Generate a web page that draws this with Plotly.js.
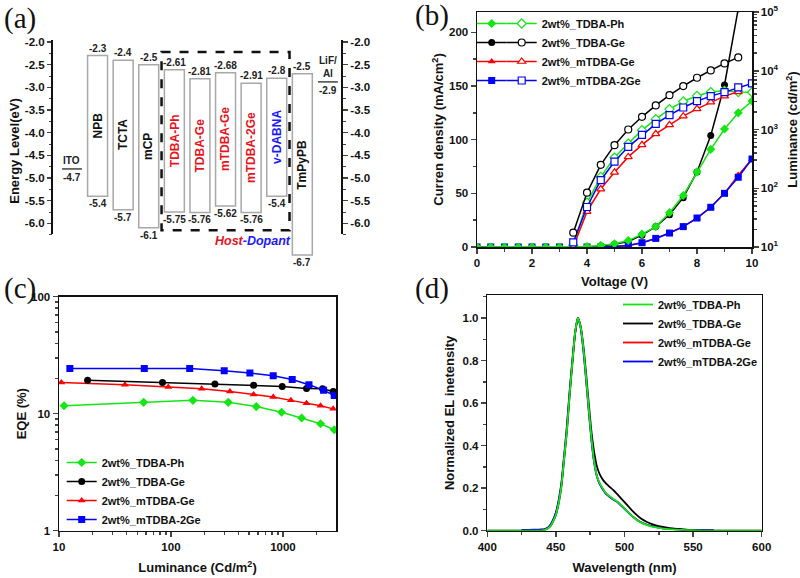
<!DOCTYPE html>
<html><head><meta charset="utf-8">
<script src="https://cdn.plot.ly/plotly-3.0.1.min.js"></script>
<style>html,body{margin:0;padding:0;background:#fff;} #chart{width:800px;height:578px;}</style>
</head><body><div id="chart"></div>
<script>
// ---------- (a) energy levels ----------
const materials = ['NPB','TCTA','mCP','TDBA-Ph','TDBA-Ge','mTDBA-Ge','mTDBA-2Ge','v-DABNA','TmPyPB'];
const materialRole = ['transport','transport','transport','host','host','host','host','dopant','transport'];
const lumo = [-2.3,-2.4,-2.5,-2.61,-2.81,-2.68,-2.91,-2.8,-2.7];
const homo = [-5.4,-5.7,-6.1,-5.75,-5.76,-5.62,-5.76,-5.4,-6.7];
const lumoText = ['-2.3','-2.4','-2.5','-2.61','-2.81','-2.68','-2.91','-2.8','-2.5'];
const homoText = ['-5.4','-5.7','-6.1','-5.75','-5.76','-5.62','-5.76','-5.4','-6.7'];
const electrodes = ['ITO','LiF/<br>Al'];
const electrodeLevel = [-4.8,-2.88];
const electrodeText = ['-4.7','-2.9'];
const energyTicks = [-2.0,-2.5,-3.0,-3.5,-4.0,-4.5,-5.0,-5.5,-6.0];

// ---------- (b) J-V-L ----------
const seriesNames = ['2wt%_TDBA-Ph','2wt%_TDBA-Ge','2wt%_mTDBA-Ge','2wt%_mTDBA-2Ge'];
const voltage = [0,0.5,1,1.5,2,2.5,3,3.5,4,4.5,5,5.5,6,6.5,7,7.5,8,8.5,9,9.5,10];
const jPh   = [0,0,0,0,0,0,0,0,0.5,1.5,3,6,12,19,32,48,70,91,110,125,136];
const jGe   = [0,0,0,0,0,0,0,0,0,1,2.5,5,11,19,30,46,70,104,151,222,null];
const jmGe  = [0,0,0,0,0,0,0,0,0,0,0.5,1.5,4,8,13,19,27,37,50,67,82];
const jm2Ge = [0,0,0,0,0,0,0,0,0,0,0.5,1.5,4,8,13,19,27,37,50,65,82];
const lumVoltage = [3.5,4,4.5,5,5.5,6,6.5,7,7.5,8,8.5,9,9.5,10];
const lPh   = [10.7,57,156,333,577,975,1500,2223,3000,3750,4330,4560,4330,4300];
const lGe   = [17.5,84,250,541,1000,1644,2566,3846,5480,7600,10140,13340,16870,null];
const lmGe  = [10,40,97,187,342,548,844,1202,1688,2250,2924,3700,4385,null];
const lm2Ge = [12,48,137,285,507,811,1250,1755,2370,3040,3700,4330,5200,6080];

// ---------- (c) EQE-L ----------
const eqeLumPh   = [11.1,57,157,325,578,973,1469,2168,2870];
const eqePh      = [11.7,12.5,13.0,12.5,11.5,10.3,9.2,8.2,7.3];
const eqeLumGe   = [18.0,84,247,547,986,1625,2259,2811];
const eqeGe      = [19.3,18.5,17.9,17.5,17.1,16.4,16.3,15.5];
const eqeLummGe  = [10.5,38.8,94.6,188,336,547,819,1178,1625,2168,2811];
const eqemGe     = [18.5,17.7,16.9,16.3,15.5,14.6,13.9,13.0,12.3,11.7,11.0];
const eqeLumm2Ge = [12.5,57.8,147,299,507,819,1210,1708,2306,2870];
const eqem2Ge    = [24.4,24.4,24.4,23.3,22.3,21.1,19.6,17.7,15.9,14.3];

// ---------- (d) EL spectra ----------
const wavelength = [400,425,430,435,440,442,444,446,448,450,452,454,456,458,460,462,464,466,468,470,472,474,476,478,480,482,484,486,488,490,492,494,496,498,500,503,506,509,512,516,520,525,530,535,540,545,550,555,560,565,600];
const elPh = [0,0,0,0,0.001,0.004,0.01,0.022,0.045,0.075,0.13,0.21,0.34,0.47,0.64,0.79,0.93,1.0,0.96,0.86,0.72,0.57,0.43,0.32,0.255,0.222,0.2,0.18,0.168,0.158,0.148,0.14,0.13,0.118,0.105,0.085,0.066,0.05,0.038,0.027,0.019,0.013,0.009,0.006,0.004,0.003,0.002,0.001,0,0,0];
const elGe = [0,0,0,0,0.001,0.004,0.01,0.021,0.044,0.074,0.128,0.208,0.335,0.465,0.635,0.785,0.925,1.0,0.962,0.87,0.74,0.595,0.46,0.365,0.3,0.265,0.242,0.226,0.213,0.201,0.19,0.177,0.163,0.148,0.134,0.113,0.092,0.073,0.057,0.042,0.031,0.022,0.016,0.011,0.008,0.005,0.003,0.001,0,0,0];
const elmGe = [null,0.003,0.004,0.004,0.005,0.008,0.013,0.027,0.05,0.084,0.14,0.22,0.35,0.488,0.652,0.798,0.93,1.0,0.956,0.852,0.712,0.562,0.422,0.318,0.254,0.22,0.198,0.179,0.166,0.156,0.147,0.139,0.129,0.117,0.104,0.085,0.067,0.052,0.04,0.029,0.021,0.015,0.01,0.007,0.005,0.004,0.003,0.003,0.002,0.002,null];
const elm2Ge = [null,0.004,0.004,0.005,0.006,0.008,0.014,0.028,0.052,0.086,0.142,0.222,0.352,0.49,0.655,0.8,0.932,1.0,0.955,0.85,0.71,0.56,0.42,0.315,0.252,0.218,0.196,0.177,0.165,0.155,0.146,0.138,0.128,0.116,0.103,0.084,0.066,0.051,0.04,0.029,0.021,0.015,0.01,0.007,0.005,0.004,0.004,0.003,0.003,0.002,null];

// ---------- styles ----------
const colors = ['#14e614','#000000','#ff0000','#0000ff'];
const symbols = ['diamond','circle','triangle-up','square'];
const roleColor = {transport:'#111111', host:'#e8141c', dopant:'#1a1aff'};
const FAM = 'Liberation Sans, Arial, sans-serif';
const tickF = {family:FAM, size:11.5, color:'#111', weight:'bold'};
const titleF = {family:FAM, size:13, color:'#111', weight:'bold'};
const legF = {family:FAM, size:11, color:'#111', weight:'bold'};
const px = v => v/800, py = v => 1 - v/578;

const traces = [];
// (a)
traces.push({type:'bar', x: materials.map((m,i)=>i+1), base: lumo, y: homo.map((h,i)=>h-lumo[i]),
  width:0.78, marker:{color:'#ffffff', line:{color:'#a8a8a8', width:1.5}},
  xaxis:'x', yaxis:'y', showlegend:false, hoverinfo:'skip'});
electrodes.forEach((e,k)=>{
  const pos = k===0 ? 0 : materials.length+1;
  traces.push({type:'scatter', mode:'lines', x:[pos-0.39,pos+0.39], y:[electrodeLevel[k],electrodeLevel[k]],
    line:{color:'#444',width:1.5}, xaxis:'x', yaxis: k===0 ? 'y' : 'y2', showlegend:false, hoverinfo:'skip'});
});
// (b)
const jData = [jPh,jGe,jmGe,jm2Ge];
const lData = [lPh,lGe,lmGe,lm2Ge];
[1,2,3,0].forEach(i=>{
  traces.push({type:'scatter', mode:'lines+markers', x:voltage, y:jData[i], name:' ',
    line:{color:colors[i], width:1.5}, marker:{symbol:symbols[i], size:7, color:colors[i]},
    xaxis:'x2', yaxis:'y3', legend:'legend', legendrank:i+1, hoverinfo:'skip'});
});
[0,2,3,1].forEach(i=>{
  traces.push({type:'scatter', mode:'lines+markers', x:lumVoltage, y:lData[i], name:seriesNames[i],
    line:{color:colors[i], width:1.5}, marker:{symbol:symbols[i], size:7, color:'#ffffff', line:{color:colors[i], width:1.2}},
    xaxis:'x2', yaxis:'y4', legend:'legend2', legendrank:i+1, hoverinfo:'skip'});
});
// (c)
const eqeX = [eqeLumPh,eqeLumGe,eqeLummGe,eqeLumm2Ge];
const eqeY = [eqePh,eqeGe,eqemGe,eqem2Ge];
[0,2,1,3].forEach(i=>{
  traces.push({type:'scatter', mode:'lines+markers', x:eqeX[i], y:eqeY[i], name:seriesNames[i],
    line:{color:colors[i], width:1.5}, marker:{symbol:symbols[i], size:7, color:colors[i]},
    xaxis:'x3', yaxis:'y5', legend:'legend3', legendrank:i+1, hoverinfo:'skip'});
});
// (d)
const elData = [elPh,elGe,elmGe,elm2Ge];
[2,3,1,0].forEach(i=>{
  traces.push({type:'scatter', mode:'lines', x:wavelength, y:elData[i], name:seriesNames[i],
    line:{color:colors[i], width:1.8, shape:'spline', smoothing:0.6},
    xaxis:'x4', yaxis:'y6', legend:'legend4', legendrank:i+1, hoverinfo:'skip'});
});

// annotations
const ann = [];
materials.forEach((m,i)=>{
  ann.push({xref:'x', yref:'y', x:i+1, y:(lumo[i]+homo[i])/2, text:m, textangle:-90, showarrow:false,
    font:{family:FAM, size:12, weight:'bold', color:roleColor[materialRole[i]]}});
  ann.push({xref:'x', yref:'y', x:i+1, y:lumo[i], yanchor:'bottom', yshift:0, text:lumoText[i], showarrow:false,
    font:{family:FAM, size:10, weight:'bold', color:'#222'}});
  ann.push({xref:'x', yref:'y', x:i+1, y:homo[i], yanchor:'top', yshift:0, text:homoText[i], showarrow:false,
    font:{family:FAM, size:10, weight:'bold', color:'#222'}});
});
electrodes.forEach((e,k)=>{
  const pos = k===0 ? 0 : materials.length+1;
  ann.push({xref:'x', yref:'y', x:pos, y:electrodeLevel[k], yanchor:'bottom', yshift:1, text:e, showarrow:false,
    font:{family:FAM, size:10, weight:'bold', color:'#222'}});
  ann.push({xref:'x', yref:'y', x:pos, y:electrodeLevel[k], yanchor:'top', yshift:-1, text:electrodeText[k], showarrow:false,
    font:{family:FAM, size:10, weight:'bold', color:'#222'}});
});
ann.push({xref:'x', yref:'y', x:7.07, y:-6.39, showarrow:false,
  text:'<i><span style="color:#e8141c">Host</span><span style="color:#1a1aff">-Dopant</span></i>',
  font:{family:FAM, size:12.5, weight:'bold'}});
const letter = (t,x,y)=>({xref:'paper', yref:'paper', x:px(x), y:py(y), xanchor:'center', yanchor:'middle', text:t, showarrow:false,
  font:{family:'Liberation Serif, Times New Roman, serif', size:29, color:'#111', weight:'normal'}});
ann.push(letter('(a)',20,18), letter('(b)',432,16), letter('(c)',20,288), letter('(d)',432,288));

const minorEnergy = [];
for (let v=-2.25; v>=-6.26; v-=0.5) minorEnergy.push(+v.toFixed(2));

const energyAxis = {
  range:[-6.853,-1.956], domain:[py(262), py(40)], showline:false, zeroline:false, showgrid:false,
  tickvals:energyTicks, ticktext:energyTicks.map(v=>v.toFixed(1)), ticks:'outside', ticklen:5, tickwidth:1.5,
  tickfont:tickF, minor:{tickvals:minorEnergy, ticks:'outside', ticklen:3, tickwidth:1}
};

const layout = {
  width:800, height:578, margin:{l:0,r:0,t:0,b:0}, paper_bgcolor:'#fff', plot_bgcolor:'rgba(0,0,0,0)',
  font:{family:FAM, size:11, color:'#111', weight:'bold'}, hovermode:false, showlegend:true, bargap:0,
  xaxis:{domain:[px(52),px(342)], range:[-0.78,10.55], visible:false, anchor:'y'},
  yaxis:Object.assign({}, energyAxis, {anchor:'free', position:px(52), side:'left',
    title:{text:'Energy Level(eV)', font:titleF, standoff:1}}),
  yaxis2:Object.assign({}, energyAxis, {anchor:'free', position:px(342), side:'right', overlaying:'y'}),
  xaxis2:{domain:[px(477),px(752)], range:[0,10], anchor:'y3', showline:true, mirror:true, linewidth:1.5, linecolor:'#111',
    showgrid:false, zeroline:false, ticks:'outside', ticklen:5, tickwidth:1.5, dtick:2, tickfont:tickF,
    minor:{dtick:1, ticks:'outside', ticklen:3}, title:{text:'Voltage (V)', font:titleF, standoff:8}},
  yaxis3:{domain:[py(247),py(12)], range:[0,219], anchor:'x2', showline:true, linewidth:1.5, linecolor:'#111',
    showgrid:false, zeroline:false, ticks:'outside', ticklen:5, tickwidth:1.5, dtick:50, tickfont:tickF,
    minor:{dtick:25, ticks:'outside', ticklen:3}, title:{text:'Curren density (mA/cm<sup>2</sup>)', font:titleF, standoff:2}},
  yaxis4:{type:'log', range:[1,5], anchor:'x2', overlaying:'y3', side:'right', showline:true, linewidth:1.5, linecolor:'#111',
    showgrid:false, zeroline:false, ticks:'outside', ticklen:5, tickwidth:1.5, tickfont:tickF,
    tickvals:[10,100,1000,10000,100000], ticktext:['10<sup>1</sup>','10<sup>2</sup>','10<sup>3</sup>','10<sup>4</sup>','10<sup>5</sup>'],
    minor:{dtick:'D1', ticks:'outside', ticklen:3}, title:{text:'Luminance (cd/m<sup>2</sup>)', font:titleF, standoff:14}},
  xaxis3:{type:'log', domain:[px(59),px(336)], range:[1,3.474], anchor:'y5', showline:true, mirror:true, linewidth:1.5, linecolor:'#111',
    showgrid:false, zeroline:false, ticks:'outside', ticklen:5, tickwidth:1.5, tickfont:tickF,
    tickvals:[10,100,1000], ticktext:['10','100','1000'], minor:{dtick:'D1', ticks:'outside', ticklen:3},
    title:{text:'Luminance (Cd/m<sup>2</sup>)', font:titleF, standoff:11}},
  yaxis5:{type:'log', domain:[py(530.7),py(296.7)], range:[0,2], anchor:'x3', showline:true, mirror:true, linewidth:1.5, linecolor:'#111',
    showgrid:false, zeroline:false, ticks:'outside', ticklen:5, tickwidth:1.5, tickfont:tickF,
    tickvals:[1,10,100], ticktext:['1','10','100'], minor:{dtick:'D1', ticks:'outside', ticklen:3},
    title:{text:'EQE (%)', font:titleF, standoff:1}},
  xaxis4:{domain:[px(487.3),px(761.7)], range:[400,600], anchor:'y6', showline:true, mirror:true, linewidth:1.5, linecolor:'#111',
    showgrid:false, zeroline:false, ticks:'outside', ticklen:5, tickwidth:1.5, dtick:50, tickfont:tickF,
    minor:{dtick:25, ticks:'outside', ticklen:3}, title:{text:'Wavelength (nm)', font:titleF, standoff:11}},
  yaxis6:{domain:[py(530.7),py(295)], range:[0,1.108], anchor:'x4', showline:true, mirror:true, linewidth:1.5, linecolor:'#111',
    showgrid:false, zeroline:false, ticks:'outside', ticklen:5, tickwidth:1.5, dtick:0.2, tickformat:'.1f', tickfont:tickF,
    minor:{dtick:0.1, ticks:'outside', ticklen:3}, title:{text:'Normalized EL inetensity', font:titleF, standoff:5}},
  legend:{x:px(471.7), y:py(9), xanchor:'left', yanchor:'top', bgcolor:'rgba(0,0,0,0)', font:legF, tracegroupgap:0, traceorder:'normal'},
  legend2:{x:px(501.7), y:py(9), xanchor:'left', yanchor:'top', bgcolor:'rgba(0,0,0,0)', font:legF, tracegroupgap:0, traceorder:'normal'},
  legend3:{x:px(61.7), y:py(448), xanchor:'left', yanchor:'top', bgcolor:'rgba(0,0,0,0)', font:legF, tracegroupgap:0, traceorder:'normal'},
  legend4:{x:px(618), y:py(290), xanchor:'left', yanchor:'top', bgcolor:'rgba(0,0,0,0)', font:legF, tracegroupgap:0, traceorder:'normal'},
  shapes:[
    {type:'line', xref:'paper', yref:'paper', x0:px(52), x1:px(52), y0:py(234), y1:py(40), line:{color:'#111', width:2}},
    {type:'line', xref:'paper', yref:'paper', x0:px(342), x1:px(342), y0:py(234), y1:py(40), line:{color:'#111', width:2}},
    {type:'rect', xref:'x', yref:'y', x0:3.5, x1:8.5, y0:-2.22, y1:-6.15, line:{color:'#111', width:2.5, dash:'dash'}}
  ],
  annotations:ann
};
Plotly.newPlot('chart', traces, layout, {displayModeBar:false, staticPlot:true});
</script></body></html>
